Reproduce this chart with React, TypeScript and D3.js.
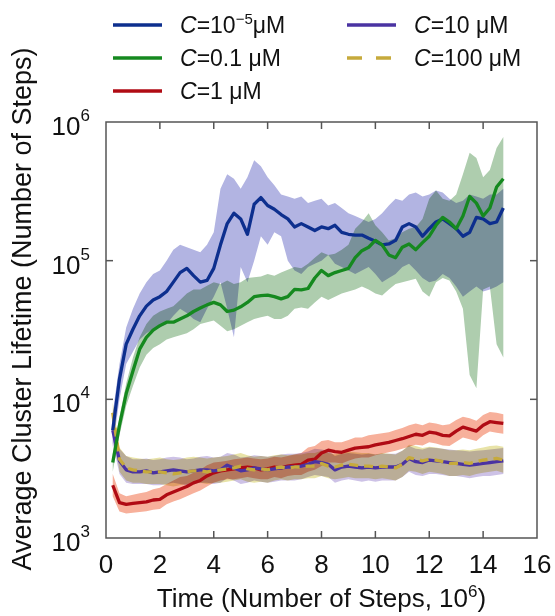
import * as d3 from 'd3';
import React from 'react';

// sample times (10^6 steps)
const times = [0.25, 0.5, 0.75, 1.0, 1.25, 1.5, 1.75, 2.0, 2.25, 2.5, 2.75, 3.0, 3.25, 3.5, 3.75, 4.0, 4.25, 4.5, 4.75, 5.0,
  5.25, 5.5, 5.75, 6.0, 6.25, 6.5, 6.75, 7.0, 7.25, 7.5, 7.75, 8.0, 8.25, 8.5, 8.75, 9.0, 9.25, 9.5, 9.75, 10.0,
  10.25, 10.5, 10.75, 11.0, 11.25, 11.5, 11.75, 12.0, 12.25, 12.5, 12.75, 13.0, 13.25, 13.5, 13.75, 14.0, 14.25, 14.5, 14.75];

// C = 1e-5 uM
const blueMean = [6000, 14000, 25000, 32000, 40000, 47000, 52000, 55000, 60000, 70000, 82000, 88000, 78000, 70000, 72000, 88000, 130000, 185000, 220000, 200000,
  155000, 255000, 285000, 250000, 235000, 215000, 200000, 175000, 185000, 175000, 165000, 175000, 170000, 180000, 160000, 155000, 153000, 153000, 145000, 138000,
  130000, 132000, 140000, 175000, 185000, 175000, 150000, 170000, 190000, 200000, 185000, 170000, 150000, 160000, 205000, 200000, 185000, 190000, 240000];
const blueHigh = [8000, 18000, 33000, 45000, 58000, 70000, 80000, 85000, 100000, 120000, 130000, 125000, 120000, 115000, 130000, 160000, 330000, 420000, 390000, 330000,
  400000, 530000, 480000, 400000, 350000, 300000, 290000, 280000, 290000, 260000, 270000, 280000, 250000, 260000, 240000, 220000, 210000, 200000, 190000, 200000,
  220000, 250000, 280000, 270000, 300000, 310000, 290000, 300000, 320000, 310000, 280000, 260000, 270000, 300000, 290000, 280000, 300000, 300000, 330000];
const blueLow = [4500, 10000, 18000, 22000, 27000, 30000, 32000, 33000, 35000, 40000, 45000, 42000, 38000, 36000, 45000, 55000, 70000, 45000, 28000, 90000,
  70000, 100000, 150000, 130000, 160000, 150000, 100000, 85000, 80000, 90000, 95000, 100000, 110000, 95000, 90000, 85000, 80000, 85000, 90000, 80000,
  70000, 75000, 80000, 90000, 95000, 85000, 75000, 70000, 72000, 80000, 75000, 65000, 55000, 60000, 65000, 60000, 62000, 65000, 70000];

// C = 0.1 uM
const greenMean = [3500, 6500, 11000, 16000, 23000, 28000, 31600, 34000, 36000, 36000, 38000, 40000, 43000, 45500, 48000, 50000, 48000, 43000, 44000, 46500,
  50000, 55000, 56000, 56500, 55000, 53000, 55000, 62000, 61500, 63000, 75000, 85000, 78000, 82000, 85000, 88000, 105000, 118000, 125000, 140000,
  130000, 110000, 105000, 125000, 132000, 120000, 135000, 150000, 180000, 205000, 190000, 170000, 210000, 290000, 260000, 210000, 240000, 340000, 390000];
const greenHigh = [4000, 7500, 13000, 20000, 28000, 35000, 40000, 43000, 45000, 47000, 52000, 58000, 62000, 62000, 66000, 70000, 68000, 72000, 68000, 70000,
  75000, 76000, 77000, 80000, 78000, 82000, 86000, 90000, 88000, 95000, 105000, 115000, 110000, 112000, 120000, 130000, 170000, 190000, 220000, 180000,
  160000, 140000, 145000, 160000, 170000, 175000, 200000, 280000, 320000, 280000, 270000, 300000, 420000, 600000, 550000, 400000, 450000, 650000, 780000];
const greenLow = [3000, 5500, 9000, 12500, 17000, 21000, 23500, 25000, 27000, 28000, 29000, 30000, 32000, 35000, 36000, 37000, 34000, 31000, 32000, 34000,
  36000, 38000, 39000, 40000, 38000, 38000, 40000, 45000, 46000, 45000, 50000, 55000, 52000, 55000, 58000, 60000, 62000, 65000, 62000, 58000,
  56000, 62000, 68000, 70000, 72000, 74000, 60000, 55000, 70000, 75000, 72000, 60000, 45000, 15000, 12000, 62000, 65000, 25000, 20000];

// C = 1 uM
const redMean = [2400, 1800, 1750, 1780, 1800, 1820, 1880, 1900, 2050, 2150, 2250, 2350, 2500, 2600, 2800, 2950, 3050, 3100, 3150, 3200,
  3250, 3200, 3100, 3150, 3250, 3200, 3300, 3350, 3400, 3650, 3700, 4100, 4300, 4200, 4150, 4300, 4450, 4500, 4550, 4700,
  4800, 4900, 5050, 5200, 5400, 5600, 5500, 5800, 5700, 5500, 5450, 5900, 6300, 6100, 5900, 6500, 6900, 6800, 6700];
const redHigh = [2900, 2100, 2000, 2050, 2100, 2150, 2250, 2300, 2450, 2600, 2750, 2800, 2950, 3100, 3350, 3500, 3550, 3600, 3700, 3750,
  3800, 3750, 3700, 3750, 3850, 3800, 3900, 4000, 4100, 4500, 4600, 5000, 5100, 4900, 4900, 5100, 5300, 5300, 5500, 5600,
  5700, 5800, 6000, 6200, 6500, 6700, 6500, 6800, 6700, 6500, 6600, 7100, 7500, 7300, 7000, 7700, 8100, 8000, 7800];
const redLow = [2000, 1550, 1500, 1520, 1540, 1560, 1600, 1620, 1750, 1830, 1900, 2000, 2100, 2200, 2350, 2500, 2600, 2650, 2650, 2700,
  2750, 2700, 2650, 2650, 2750, 2700, 2800, 2850, 2850, 3000, 3100, 3300, 3500, 3500, 3450, 3600, 3750, 3800, 3800, 3950,
  4050, 4150, 4250, 4400, 4550, 4700, 4650, 4900, 4800, 4650, 4600, 4950, 5300, 5150, 5000, 5500, 5850, 5750, 5650];

// C = 10 uM
const purpleMean = [6000, 3600, 3100, 3000, 3000, 3050, 2950, 3000, 3050, 3100, 3050, 3000, 3050, 3100, 3100, 3050, 3100, 3350, 3200, 3050,
  3100, 3200, 3150, 3100, 3150, 3200, 3250, 3250, 3300, 3400, 3550, 3500, 3400, 3100, 3250, 3300, 3250, 3200, 3250, 3200,
  3250, 3250, 3250, 3400, 3750, 3550, 3500, 3650, 3600, 3550, 3500, 3450, 3400, 3350, 3400, 3450, 3500, 3550, 3600];
const purpleHigh = [7500, 4400, 3900, 3700, 3700, 3750, 3650, 3700, 3800, 3850, 3800, 3700, 3750, 3850, 3900, 3800, 3850, 4100, 4000, 3800,
  3850, 3950, 3900, 3850, 3900, 4000, 4050, 4050, 4100, 4200, 4400, 4350, 4250, 3900, 4050, 4100, 4050, 4000, 4050, 4000,
  4050, 4050, 4050, 4250, 4600, 4400, 4350, 4500, 4450, 4400, 4350, 4300, 4250, 4200, 4250, 4300, 4350, 4400, 4450];
const purpleLow = [4800, 2900, 2500, 2450, 2450, 2450, 2400, 2400, 2450, 2500, 2450, 2400, 2450, 2500, 2500, 2450, 2500, 2700, 2600, 2450,
  2500, 2600, 2550, 2500, 2550, 2600, 2600, 2600, 2650, 2750, 2850, 2800, 2750, 2500, 2600, 2650, 2600, 2550, 2600, 2550,
  2600, 2600, 2600, 2750, 3000, 2850, 2800, 2900, 2900, 2850, 2800, 2800, 2750, 2700, 2750, 2800, 2800, 2850, 2900];

// C = 100 uM
const yellowMean = [8000, 3700, 3200, 3100, 3050, 3000, 3000, 3000, 2950, 2900, 2950, 3000, 3050, 3050, 3000, 3050, 3100, 3150, 3200, 3300,
  3150, 3100, 3150, 3100, 3200, 3250, 3200, 3250, 3250, 3300, 3300, 3450, 3300, 3250, 3350, 3400, 3350, 3300, 3300, 3250,
  3300, 3250, 3200, 3400, 3800, 3700, 3600, 3700, 3650, 3550, 3450, 3450, 3500, 3450, 3550, 3650, 3700, 3750, 3650];
const yellowHigh = [9500, 4500, 3900, 3800, 3750, 3700, 3750, 3800, 3700, 3650, 3700, 3800, 3850, 3800, 3750, 3800, 3850, 3900, 4000, 4100,
  3950, 3850, 3900, 3850, 3950, 4000, 3950, 4000, 4000, 4100, 4100, 4250, 4100, 4000, 4150, 4200, 4150, 4100, 4100, 4000,
  4100, 4050, 4000, 4250, 4700, 4600, 4450, 4550, 4500, 4400, 4300, 4300, 4350, 4300, 4400, 4500, 4600, 4650, 4550];
const yellowLow = [6500, 3000, 2600, 2500, 2500, 2450, 2450, 2450, 2400, 2350, 2400, 2450, 2500, 2500, 2450, 2500, 2500, 2550, 2600, 2650,
  2550, 2500, 2550, 2500, 2600, 2650, 2600, 2650, 2650, 2700, 2700, 2800, 2700, 2650, 2700, 2750, 2700, 2700, 2700, 2650,
  2700, 2650, 2600, 2750, 3050, 3000, 2900, 3000, 2950, 2900, 2800, 2800, 2850, 2800, 2900, 2950, 3000, 3050, 2950];

const xTicks = [0, 2, 4, 6, 8, 10, 12, 14, 16];
const yTicks = [1e3, 1e4, 1e5, 1e6];

const series = [
  { key: 'blue', mean: blueMean, hi: blueHigh, lo: blueLow, line: '#0d2f8e', band: '#b2b4e2', dash: '' },
  { key: 'green', mean: greenMean, hi: greenHigh, lo: greenLow, line: '#15891f', band: '#aecdae', dash: '' },
  { key: 'red', mean: redMean, hi: redHigh, lo: redLow, line: '#b00b14', band: '#f7b09b', dash: '' },
  { key: 'purple', mean: purpleMean, hi: purpleHigh, lo: purpleLow, line: '#4a33a2', band: '#cdc2e6', dash: '' },
  { key: 'yellow', mean: yellowMean, hi: yellowHigh, lo: yellowLow, line: '#c6aa3c', band: '#e8e3a8', dash: '9,6' },
];
const lineOrder = ['red', 'purple', 'yellow', 'blue', 'green'];

const FONT = '"Liberation Sans", Arial, sans-serif';

export default function App() {
  const x = d3.scaleLinear().domain([0, 16]).range([106, 537]);
  const y = d3.scaleLog().domain([1e3, 1e6]).range([538, 122]);
  const [x0, x1] = x.range();
  const [y0, y1] = y.range();

  const area = (hi: number[], lo: number[]) =>
    d3.area<number>().x((d, i) => x(times[i])).y0((d, i) => y(lo[i])).y1((d, i) => y(hi[i]))(hi);
  const line = (m: number[]) => d3.line<number>().x((d, i) => x(times[i])).y(d => y(d))(m);

  const legend = [
    { key: 'blue', lx: 113, ly: 25, label: <>=10<tspan dy={-9} fontSize={15}>−5</tspan><tspan dy={9}>μM</tspan></> },
    { key: 'green', lx: 113, ly: 58, label: <>=0.1 μM</> },
    { key: 'red', lx: 113, ly: 91, label: <>=1 μM</> },
    { key: 'purple', lx: 347, ly: 25, label: <>=10 μM</> },
    { key: 'yellow', lx: 347, ly: 58, label: <>=100 μM</> },
  ];

  return (
    <svg width={555} height={616} style={{ position: 'absolute', left: 0, top: 0, background: '#fff' }} fontFamily={FONT}>
      {/* bands */}
      <g>
        {series.map(s => (
          <path key={s.key} d={area(s.hi, s.lo) || ''} fill={s.band} style={{ mixBlendMode: 'multiply' }} />
        ))}
      </g>
      {/* lines */}
      {lineOrder.map(k => {
        const s = series.find(d => d.key === k)!;
        return <path key={k} d={line(s.mean) || ''} fill="none" stroke={s.line} strokeWidth={3.3}
          strokeLinejoin="round" strokeDasharray={s.dash || undefined} />;
      })}
      {/* frame */}
      <rect x={x0} y={y1} width={x1 - x0} height={y0 - y1} fill="none" stroke="#555" strokeWidth={1.5} />
      {xTicks.slice(1, -1).map(t => (
        <g key={t}>
          <line x1={x(t)} x2={x(t)} y1={y0} y2={y0 - 7} stroke="#555" strokeWidth={1.5} />
          <line x1={x(t)} x2={x(t)} y1={y1} y2={y1 + 7} stroke="#555" strokeWidth={1.5} />
        </g>
      ))}
      {yTicks.slice(1, -1).map(t => (
        <g key={t}>
          <line x1={x0} x2={x0 + 7} y1={y(t)} y2={y(t)} stroke="#555" strokeWidth={1.5} />
          <line x1={x1} x2={x1 - 7} y1={y(t)} y2={y(t)} stroke="#555" strokeWidth={1.5} />
        </g>
      ))}
      {xTicks.map(t => (
        <text key={t} x={x(t)} y={573} fontSize={26} textAnchor="middle" fill="#111">{t}</text>
      ))}
      {yTicks.map(t => (
        <text key={t} x={90} y={y(t) + 13} fontSize={26} textAnchor="end" fill="#111">
          10<tspan dy={-14} fontSize={17}>{Math.round(Math.log10(t))}</tspan>
        </text>
      ))}
      <text x={(x0 + x1) / 2} y={607} fontSize={26} textAnchor="middle" fill="#111">
        Time (Number of Steps, 10<tspan dy={-10} fontSize={17}>6</tspan><tspan dy={10}>)</tspan>
      </text>
      <text transform="translate(31,309) rotate(-90)" fontSize={27} textAnchor="middle" fill="#111">
        Average Cluster Lifetime (Number of Steps)
      </text>
      {/* legend */}
      {legend.map(l => {
        const s = series.find(d => d.key === l.key)!;
        return (
          <g key={l.key}>
            <line x1={l.lx} x2={l.lx + (s.dash ? 44 : 49)} y1={l.ly} y2={l.ly} stroke={s.line} strokeWidth={3.5}
              strokeDasharray={s.dash ? '15,14' : undefined} />
            <text x={l.lx + 67} y={l.ly + 8} fontSize={23} fill="#111">
              <tspan fontStyle="italic">C</tspan>{l.label}
            </text>
          </g>
        );
      })}
    </svg>
  );
}
